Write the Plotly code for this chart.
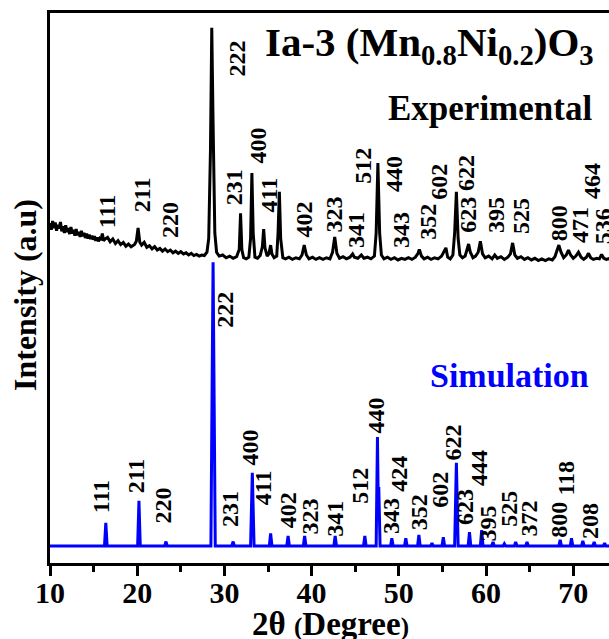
import plotly.graph_objects as go

# ---------------- data ----------------
# Experimental XRD pattern (2theta, intensity in arbitrary plot units)
exp_2theta = [10.0, 10.15, 10.3, 10.45, 10.6, 10.75, 10.9, 11.05, 11.2, 11.35,
              11.5, 11.65, 11.8, 11.95, 12.1, 12.25, 12.4, 12.55, 12.7, 12.85,
              13.0, 13.15, 13.3, 13.45, 13.6, 13.75, 13.9, 14.05, 14.2, 14.35,
              14.5, 14.65, 14.8, 14.95, 15.1, 15.25, 15.4, 15.55, 15.7, 15.85,
              16.0, 16.15, 16.3,
              16.6, 16.9, 17.2, 17.5, 17.8, 18.1,
              18.4, 18.7, 19.0, 19.3, 19.7, 19.9, 20.1, 20.3, 20.5, 20.8, 21.1, 21.4, 21.7, 22.0,
              22.3, 22.6, 22.9, 23.2, 23.5, 23.8, 24.1, 24.4, 24.7, 25.0, 25.3, 25.6, 25.9, 26.2,
              26.5, 26.8, 27.1, 27.4, 27.7, 28.0, 28.2, 28.4, 28.55, 28.7, 28.9, 29.1, 29.4, 29.8,
              30.2, 30.6, 31.0, 31.4, 31.7, 31.85, 32.0, 32.2, 32.5, 32.8, 33.0, 33.15, 33.3, 33.5,
              33.8, 34.1, 34.35, 34.5, 34.65, 34.9, 35.1, 35.3, 35.45, 35.7, 36.0, 36.15, 36.3, 36.45,
              36.7, 37.0, 37.4, 37.8, 38.2, 38.6, 38.9, 39.15, 39.4, 39.7, 40.1, 40.5, 40.9, 41.3,
              41.7, 42.1, 42.4, 42.65, 42.9, 43.2, 43.6, 44.0, 44.4, 44.7, 44.9, 45.3, 45.7, 46.0,
              46.4, 46.8, 47.2, 47.4, 47.6, 47.8, 48.0, 48.3, 48.7, 49.1, 49.5, 49.9, 50.3, 50.7,
              51.1, 51.5, 51.9, 52.2, 52.35, 52.6, 52.9, 53.3, 53.7, 54.1, 54.5, 54.9, 55.2, 55.4,
              55.6, 55.9, 56.2, 56.4, 56.6, 56.8, 57.0, 57.3, 57.6, 57.85, 58.0, 58.2, 58.5, 58.8,
              59.1, 59.35, 59.6, 59.9, 60.3, 60.7, 61.0, 61.3, 61.7, 62.1, 62.5, 62.8, 63.05, 63.3,
              63.6, 64.0, 64.4, 64.8, 65.2, 65.6, 66.0, 66.4, 66.8, 67.2, 67.6, 67.9, 68.15, 68.35,
              68.6, 68.9, 69.2, 69.45, 69.7, 70.0, 70.3, 70.6, 70.9, 71.2, 71.5, 71.75, 72.0, 72.3,
              72.7, 73.0, 73.25, 73.5, 73.8, 74.2]
exp_intensity = [61.8, 60.6, 62.2, 60.9, 61.9, 60.4, 61.5, 60.8, 62.0, 60.3,
                 61.2, 60.0, 61.4, 60.2, 60.9, 59.8, 61.1, 59.9, 60.6, 59.5,
                 60.7, 59.6, 60.2, 59.3, 60.4, 59.4, 60.0, 59.1, 59.9, 59.0,
                 59.7, 58.9, 59.5, 58.8, 59.4, 58.6, 59.2, 58.5, 59.0, 58.7,
                 59.9, 58.6, 58.9,
                 59.2, 58.4, 58.9, 58.1, 58.6, 57.9,
                 58.3, 57.6, 58.0, 57.5, 57.9, 58.5, 60.9, 58.3, 57.8, 58.3, 57.4, 57.7, 57.1, 57.5,
                 56.9, 57.2, 56.7, 57.1, 56.6, 56.9, 56.4, 56.7, 56.3, 56.6, 56.2, 56.4, 56.0, 56.3,
                 55.9, 56.1, 55.8, 56.0, 55.9, 56.5, 59.0, 75.0, 97.3, 80.0, 60.0, 56.5, 55.8, 56.0,
                 55.5, 55.8, 55.4, 55.7, 57.0, 63.6, 57.0, 55.5, 55.3, 55.6, 59.0, 70.9, 60.0, 55.6,
                 55.4, 55.9, 57.5, 60.7, 57.3, 55.8, 56.2, 57.8, 56.2, 55.5, 55.8, 60.0, 67.5, 59.0,
                 55.5, 55.3, 55.6, 55.2, 55.5, 55.3, 56.0, 57.8, 56.0, 55.3, 55.6, 55.2, 55.5, 55.2,
                 55.5, 55.3, 56.5, 59.3, 56.3, 55.4, 55.7, 55.3, 55.6, 56.2, 55.6, 55.4, 56.0, 55.4,
                 55.6, 55.3, 55.8, 60.0, 72.7, 60.0, 56.0, 55.3, 55.6, 55.2, 55.5, 55.1, 55.4, 55.2,
                 55.5, 55.2, 55.6, 56.3, 57.0, 55.8, 55.3, 55.6, 55.2, 55.5, 55.3, 55.8, 56.6, 57.3,
                 55.6, 55.3, 56.0, 60.0, 67.5, 59.0, 56.0, 55.5, 55.8, 57.0, 58.0, 56.5, 55.5, 55.8,
                 56.5, 58.5, 56.2, 55.5, 55.8, 55.3, 56.0, 55.4, 55.7, 55.2, 55.6, 56.2, 58.2, 56.0,
                 55.4, 55.7, 55.2, 55.5, 55.1, 55.4, 55.0, 55.3, 55.0, 55.3, 55.1, 55.7, 57.0, 57.8,
                 56.5, 55.5, 56.0, 56.9, 56.0, 55.4, 55.8, 56.5, 55.6, 55.2, 55.6, 56.3, 55.5, 55.2,
                 55.4, 55.3, 56.1, 55.4, 55.2, 55.4]

# Simulated stick-like pattern
sim_2theta = [10.0,
              16.25, 16.4, 16.55, 20.05, 20.2, 20.35, 23.15, 23.3, 23.45,
              28.45, 28.7, 28.95, 30.85, 31.0, 31.15, 33.0, 33.2, 33.4,
              35.15, 35.3, 35.45, 37.15, 37.3, 37.45, 39.05, 39.2, 39.35,
              42.55, 42.7, 42.85, 45.95, 46.1, 46.25,
              47.4, 47.55, 47.63, 47.7, 47.85,
              49.05, 49.2, 49.35, 50.65, 50.8, 50.95, 52.15, 52.3, 52.45,
              53.65, 53.8, 53.95, 54.95, 55.1, 55.25, 56.4, 56.6, 56.8,
              57.95, 58.1, 58.25, 59.35, 59.5, 59.65, 60.65, 60.8, 60.95,
              61.95, 62.1, 62.25, 63.25, 63.4, 63.55, 64.55, 64.7, 64.85,
              68.35, 68.5, 68.65, 69.65, 69.8, 69.95, 70.95, 71.1, 71.25,
              72.25, 72.4, 72.55, 73.45, 73.6, 73.75,
              74.2]
sim_intensity = [3.1,
                 3.1, 7.3, 3.1, 3.1, 11.3, 3.1, 3.1, 3.9, 3.1,
                 3.1, 54.7, 3.1, 3.1, 3.9, 3.1, 3.1, 16.4, 3.1,
                 3.1, 5.4, 3.1, 3.1, 4.9, 3.1, 3.1, 4.9, 3.1,
                 3.1, 4.9, 3.1, 3.1, 4.9, 3.1,
                 3.1, 22.9, 12.0, 13.8, 3.1,
                 3.1, 4.5, 3.1, 3.1, 4.5, 3.1, 3.1, 5.1, 3.1,
                 3.1, 3.6, 3.1, 3.1, 4.7, 3.1, 3.1, 18.2, 3.1,
                 3.1, 5.6, 3.1, 3.1, 6.0, 3.1, 3.1, 3.8, 3.1,
                 3.1, 3.5, 3.1, 3.1, 3.8, 3.1, 3.1, 3.8, 3.1,
                 3.1, 4.2, 3.1, 3.1, 4.5, 3.1, 3.1, 4.0, 3.1,
                 3.1, 3.8, 3.1, 3.1, 3.6, 3.1,
                 3.1]

# Miller index labels (experimental)
exp_labels = ['111', '211', '220', '222', '231', '400', '411', '402', '323', '341', '512', '440',
              '343', '352', '602', '622', '623', '395', '525', '800', '471', '464', '536']
exp_label_x = [16.55, 20.57, 23.79, 31.49, 31.03, 33.9, 35.17, 39.08, 42.53, 45.06, 45.86, 49.43,
               50.23, 53.33, 54.6, 57.7, 57.93, 61.15, 64.02, 68.39, 70.69, 72.07, 73.45]
exp_label_y = [63.8, 66.9, 62.4, 91.8, 68.4, 76.0, 66.9, 62.4, 63.3, 60.5, 72.2, 70.7,
               60.5, 62.0, 69.3, 70.9, 63.3, 63.3, 63.1, 61.8, 61.5, 69.5, 61.3]

# Miller index labels (simulation)
sim_labels = ['111', '211', '220', '222', '231', '400', '411', '402', '323', '341', '512', '440',
              '343', '424', '352', '602', '622', '623', '444', '395', '525', '372', '800', '118', '208']
sim_label_x = [15.94, 19.89, 22.99, 30.11, 30.57, 32.82, 34.37, 37.24, 39.83, 42.64, 45.52, 47.36,
               49.08, 50.0, 52.41, 54.71, 56.21, 57.59, 59.2, 60.23, 62.53, 64.94, 68.28, 69.2, 71.84]
sim_label_y = [12.1, 15.8, 10.5, 46.1, 9.9, 21.0, 13.7, 9.5, 8.5, 8.0, 14.0, 26.8,
               8.5, 16.2, 9.2, 13.3, 21.9, 10.2, 17.3, 7.2, 9.9, 8.1, 7.9, 15.4, 7.7]

x_tickvals = [10, 20, 30, 40, 50, 60, 70]
x_ticktext = ['10', '20', '30', '40', '50', '60', '70']

# ---------------- figure ----------------
FONT = "Liberation Serif"
fig = go.Figure()
fig.add_trace(go.Scatter(x=exp_2theta, y=exp_intensity, mode='lines',
                         line=dict(color='black', width=3), showlegend=False, hoverinfo='skip'))
fig.add_trace(go.Scatter(x=sim_2theta, y=sim_intensity, mode='lines',
                         line=dict(color='#0000ff', width=3), showlegend=False, hoverinfo='skip'))

annotations = []
for t, x, y in zip(exp_labels, exp_label_x, exp_label_y):
    annotations.append(dict(x=x, y=y, xref='x', yref='y', text=t, textangle=-90, showarrow=False,
                            xanchor='center', yanchor='middle',
                            font=dict(family=FONT, size=24, color='black', weight='bold')))
for t, x, y in zip(sim_labels, sim_label_x, sim_label_y):
    annotations.append(dict(x=x, y=y, xref='x', yref='y', text=t, textangle=-90, showarrow=False,
                            xanchor='center', yanchor='middle',
                            font=dict(family=FONT, size=24, color='black', weight='bold')))

# Title / legends texts
annotations.append(dict(x=(429 - 50) / 559, y=(563 - 45) / 550, xref='paper', yref='paper',
                        text='Ia-3 (Mn<sub>0.8</sub>Ni<sub>0.2</sub>)O<sub>3</sub>', showarrow=False,
                        xanchor='center', yanchor='middle',
                        font=dict(family=FONT, size=41, color='black', weight='bold')))
annotations.append(dict(x=(490 - 50) / 559, y=(563 - 108) / 550, xref='paper', yref='paper',
                        text='Experimental', showarrow=False, xanchor='center', yanchor='middle',
                        font=dict(family=FONT, size=35, color='black', weight='bold')))
annotations.append(dict(x=(509 - 50) / 559, y=(563 - 375) / 550, xref='paper', yref='paper',
                        text='Simulation', showarrow=False, xanchor='center', yanchor='middle',
                        font=dict(family=FONT, size=34, color='#0000ff', weight='bold')))
# axis titles
annotations.append(dict(x=(25 - 50) / 559, y=(563 - 295) / 550, xref='paper', yref='paper',
                        text='Intensity (a.u)', textangle=-90, showarrow=False,
                        xanchor='center', yanchor='middle',
                        font=dict(family=FONT, size=32, color='black', weight='bold')))
annotations.append(dict(x=(330 - 50) / 559, y=(563 - 624) / 550, xref='paper', yref='paper',
                        text='2θ <span style="font-size:25px">(</span>Degree<span style="font-size:25px">)</span>',
                        showarrow=False, xanchor='center', yanchor='middle',
                        font=dict(family=FONT, size=33, color='black', weight='bold')))

fig.update_layout(
    width=609, height=639,
    margin=dict(l=50, r=0, t=13, b=76, pad=0),
    paper_bgcolor='white', plot_bgcolor='white',
    showlegend=False,
    annotations=annotations,
    xaxis=dict(range=[10, 74.1], showgrid=False, zeroline=False,
               showline=True, linecolor='black', linewidth=3, mirror=True,
               ticks='outside', ticklen=10, tickwidth=3, tickcolor='black',
               tickvals=x_tickvals, ticktext=x_ticktext, ticklabelstandoff=-9,
               tickfont=dict(family=FONT, size=30, color='black', weight='bold'),
               minor=dict(ticks='outside', ticklen=6, tickwidth=3, tickcolor='black', dtick=5, tick0=10),
               automargin=False),
    yaxis=dict(range=[0, 100], showgrid=False, zeroline=False,
               showline=True, linecolor='black', linewidth=3,
               ticks='', showticklabels=False, automargin=False),
)

fig.write_html("out.html", config={'displayModeBar': False},
               post_script="document.body.style.margin='0';document.body.style.padding='0';")
